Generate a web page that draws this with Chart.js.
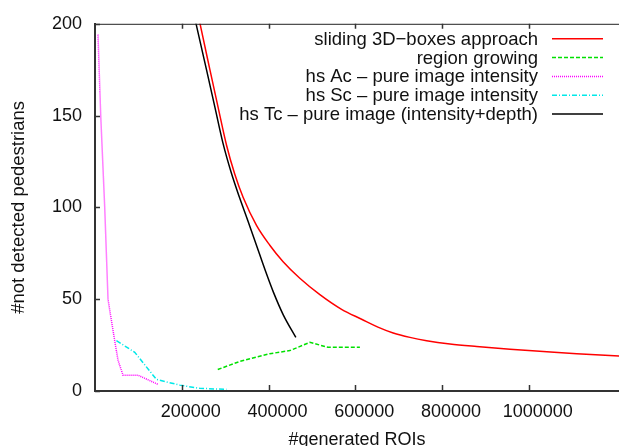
<!DOCTYPE html>
<html>
<head>
<meta charset="utf-8">
<script src="https://cdn.jsdelivr.net/npm/chart.js@4.4.0/dist/chart.umd.min.js"></script>
<style>
  html, body { margin: 0; padding: 0; background: #fff; }
  #wrap { width: 619px; height: 446px; }
</style>
</head>
<body>
<div id="wrap"><canvas id="roiChart"></canvas></div>
<script>
const xTicks = [200000, 400000, 600000, 800000, 1000000];
const yTicks = [0, 50, 100, 150, 200];

// sliding 3D-boxes approach
const slidingX = [225200, 242200, 264600, 283800, 303100, 322300, 341400, 372300, 403000, 433700, 472200, 518400, 568400, 614600, 652200, 687500, 726000, 764500, 818300, 879900, 956700, 1033500, 1110600, 1208200];
const slidingY = [220, 200, 175.3, 154.5, 134, 118, 105.5, 90.2, 79.4, 70.4, 61.4, 52.5, 44.5, 39.1, 34.8, 31.6, 29.2, 27.4, 25.6, 24.2, 22.7, 21.5, 20.3, 19.0];

// region growing
const regionX = [283000, 333800, 403000, 449200, 495400, 536900, 610700];
const regionY = [11.7, 16.1, 20.3, 22.0, 26.5, 23.8, 23.8];

// hs Ac
const hsAcX = [6900, 13200, 22400, 30000, 35500, 45400, 53100, 64600, 99200, 145300];
const hsAcY = [194.1, 150, 100, 50, 41.8, 27.4, 16.7, 8.6, 8.6, 3.6];

// hs Sc
const hsScX = [49400, 91600, 141600, 195400, 241500, 303100];
const hsScY = [27.4, 21.1, 6.3, 3.2, 1.45, 0.9];

// hs Tc
const hsTcX = [213000, 233000, 257000, 276000, 295000, 314000, 333000, 352000, 372000, 392000, 411000, 434000, 463000];
const hsTcY = [220, 200, 175, 155, 135, 119, 105.5, 93, 79.5, 66, 54, 41.5, 29.2];

const pts = (xs, ys) => xs.map((x, i) => ({ x, y: ys[i] }));
const FONT = '"Liberation Sans", Arial, sans-serif';

const frameTicks = {
    id: 'frameTicks',
    afterDraw(chart) {
        const { ctx, chartArea, scales } = chart;
        ctx.save();
        ctx.strokeStyle = '#222';
        ctx.lineWidth = 1;
        ctx.beginPath();
        ctx.moveTo(chartArea.left, chartArea.top + 0.5);
        ctx.lineTo(chartArea.right, chartArea.top + 0.5);
        ctx.stroke();
        ctx.strokeStyle = '#333';
        ctx.lineWidth = 1.5;
        ctx.beginPath();
        scales.x.ticks.forEach(t => {
            const px = Math.round(scales.x.getPixelForValue(t.value)) + 0.5;
            ctx.moveTo(px, chartArea.bottom);
            ctx.lineTo(px, chartArea.bottom - 6);
            ctx.moveTo(px, chartArea.top);
            ctx.lineTo(px, chartArea.top + 5);
        });
        scales.y.ticks.forEach(t => {
            const py = Math.round(scales.y.getPixelForValue(t.value)) + 0.5;
            ctx.moveTo(chartArea.left, py);
            ctx.lineTo(chartArea.left + 5, py);
        });
        ctx.stroke();
        ctx.restore();
    }
};

// gnuplot style key: right-aligned text, sample line on the right
const gnuKey = {
    id: 'gnuKey',
    afterDatasetsDraw(chart) {
        const { ctx, chartArea } = chart;
        ctx.save();
        ctx.font = '18.5px ' + FONT;
        ctx.textAlign = 'right';
        ctx.textBaseline = 'middle';
        chart.data.datasets.forEach((ds, i) => {
            const y = chartArea.top + 15 + i * 18.8;
            ctx.fillStyle = '#111';
            ctx.fillText(ds.label, 538, y + 1);
            ctx.strokeStyle = ds.borderColor;
            ctx.lineWidth = ds.borderWidth;
            ctx.setLineDash(ds.borderDash || []);
            ctx.beginPath();
            ctx.moveTo(552, y);
            ctx.lineTo(603, y);
            ctx.stroke();
        });
        ctx.restore();
    }
};

new Chart(document.getElementById('roiChart'), {
    type: 'line',
    data: {
        datasets: [
            {
                label: 'sliding 3D\u2212boxes approach',
                data: pts(slidingX, slidingY),
                borderColor: '#ff0000',
                borderWidth: 1.5,
                cubicInterpolationMode: 'monotone',
                order: 5
            },
            {
                label: 'region growing',
                data: pts(regionX, regionY),
                borderColor: '#00e000',
                borderWidth: 1.5,
                borderDash: [4, 2],
                order: 4
            },
            {
                label: 'hs Ac \u2013 pure image intensity',
                data: pts(hsAcX, hsAcY),
                borderColor: '#ff00ff',
                borderWidth: 1.5,
                borderDash: [1, 1],
                order: 3
            },
            {
                label: 'hs Sc \u2013 pure image intensity',
                data: pts(hsScX, hsScY),
                borderColor: '#00e8e8',
                borderWidth: 1.5,
                borderDash: [5, 2, 1, 2],
                order: 2
            },
            {
                label: 'hs Tc \u2013 pure image (intensity+depth)',
                data: pts(hsTcX, hsTcY),
                borderColor: '#000000',
                borderWidth: 1.5,
                cubicInterpolationMode: 'monotone',
                order: 1
            }
        ]
    },
    options: {
        responsive: true,
        maintainAspectRatio: false,
        animation: false,
        layout: { padding: { top: 19, right: 0, left: 0, bottom: 0 } },
        elements: { point: { radius: 0 }, line: { fill: false, tension: 0 } },
        scales: {
            x: {
                type: 'linear',
                min: 0,
                max: 1208000,
                afterBuildTicks: (scale) => { scale.ticks = xTicks.map(v => ({ value: v })); },
                afterFit: (scale) => { scale.height = 55; },
                grid: { display: false, drawTicks: false },
                border: { display: true, color: '#333', width: 2 },
                ticks: { color: '#111', font: { size: 18, family: FONT }, padding: 10, labelOffset: 9, maxRotation: 0, autoSkip: false, callback: (v) => String(v) },
                title: { display: true, text: '#generated ROIs', color: '#111', font: { size: 18, family: FONT }, padding: { top: 0, bottom: -5 } }
            },
            y: {
                type: 'linear',
                min: 0,
                max: 200,
                afterBuildTicks: (scale) => { scale.ticks = yTicks.map(v => ({ value: v })); },
                afterFit: (scale) => { scale.width = 95; },
                grid: { display: false, drawTicks: false },
                border: { display: true, color: '#333', width: 2 },
                ticks: { color: '#111', font: { size: 18, family: FONT }, padding: 13 },
                title: { display: true, text: '#not detected pedestrians', color: '#111', font: { size: 18.5, family: FONT }, padding: { top: 8, bottom: 0 } }
            }
        },
        plugins: {
            legend: { display: false },
            tooltip: { enabled: false }
        }
    },
    plugins: [frameTicks, gnuKey]
});
</script>
</body>
</html>
